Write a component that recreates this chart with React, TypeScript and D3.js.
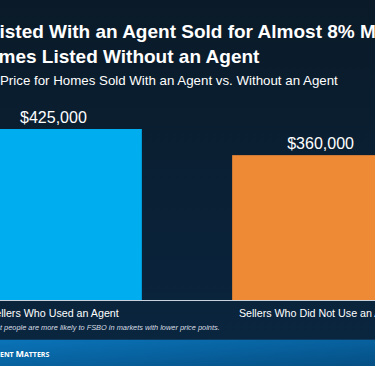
import { useMemo } from 'react';
import { scaleBand, scaleLinear } from 'd3';

const categories = ['Sellers Who Used an Agent', 'Sellers Who Did Not Use an Agent'];
const medianPrices = [425000, 360000];
const priceLabels = ['$425,000', '$360,000'];
const barColors = ['#00aeef', '#ee8a36'];
const titleLines = ['isted With an Agent Sold for Almost 8% M', 'mes Listed Without an Agent'];
const subtitle = 'Price for Homes Sold With an Agent vs. Without an Agent';
const footnote = 't people are more likely to FSBO in markets with lower price points.';

const width = 375;
const height = 366;
const baseY = 300;
const font = 'Arial, "Liberation Sans", sans-serif';

const App = () => {
  const x = useMemo(
    () => scaleBand<string>().domain(categories).range([-35, 409]).paddingInner(0.338).paddingOuter(0),
    [],
  );
  const y = useMemo(() => scaleLinear().domain([0, 425000]).range([baseY, 129]), []);

  return (
    <div>
      <style>{`body{margin:0}`}</style>
      <svg width={width} height={height} style={{ display: 'block' }}>
        <defs>
          <linearGradient id="bg" x1="0" y1="0" x2="0" y2="1">
            <stop offset="0" stopColor="#0a1a28" />
            <stop offset="1" stopColor="#0a2640" />
          </linearGradient>
          <linearGradient id="band" x1="0" y1="0" x2="1" y2="1">
            <stop offset="0" stopColor="#0a74b9" />
            <stop offset="1" stopColor="#054f84" />
          </linearGradient>
        </defs>
        <rect width={width} height={height} fill="url(#bg)" />

        {/* title */}
        <g fill="#fff" fontFamily={font} fontWeight="bold" fontSize={19}>
          <text x={-0.5} y={37.5}>{titleLines[0]}</text>
          <text x={-1.5} y={63}>{titleLines[1]}</text>
        </g>
        <text x={0} y={85} fill="#fff" fontFamily={font} fontSize={13.3}>
          {subtitle}
        </text>

        {/* bars */}
        {categories.map((c, i) => (
          <g key={c}>
            <rect
              x={x(c)}
              y={y(medianPrices[i])}
              width={x.bandwidth()}
              height={baseY - y(medianPrices[i])}
              fill={barColors[i]}
            />
            <text
              x={x(c)! + x.bandwidth() / 2}
              y={y(medianPrices[i]) - 6.3}
              textAnchor="middle"
              fill="#fff"
              fontFamily={font}
              fontSize={16}
            >
              {priceLabels[i]}
            </text>
            <text
              x={x(c)! + x.bandwidth() / 2}
              y={317}
              textAnchor="middle"
              fill="#fff"
              fontFamily={font}
              fontSize={10.7}
            >
              {c}
            </text>
          </g>
        ))}
        <line x1={0} x2={width} y1={baseY + 0.5} y2={baseY + 0.5} stroke="#c9d2dc" strokeWidth={1} />

        <text x={0} y={330} fill="#d8dde3" fontFamily={font} fontStyle="italic" fontSize={7.4}>
          {footnote}
        </text>

        {/* bottom band */}
        <rect x={0} y={339} width={width} height={height - 339} fill="url(#band)" />
        <line x1={0} x2={width} y1={339.5} y2={339.5} stroke="#0d3a5c" strokeWidth={1} />
        <text x={0} y={356.5} fill="#fff" fontFamily='"Open Sans", sans-serif' fontWeight="bold">
          <tspan fontSize={7}>ENT </tspan>
          <tspan fontSize={9}>M</tspan>
          <tspan fontSize={7}>ATTERS</tspan>
        </text>
      </svg>
    </div>
  );
};

export default App;
